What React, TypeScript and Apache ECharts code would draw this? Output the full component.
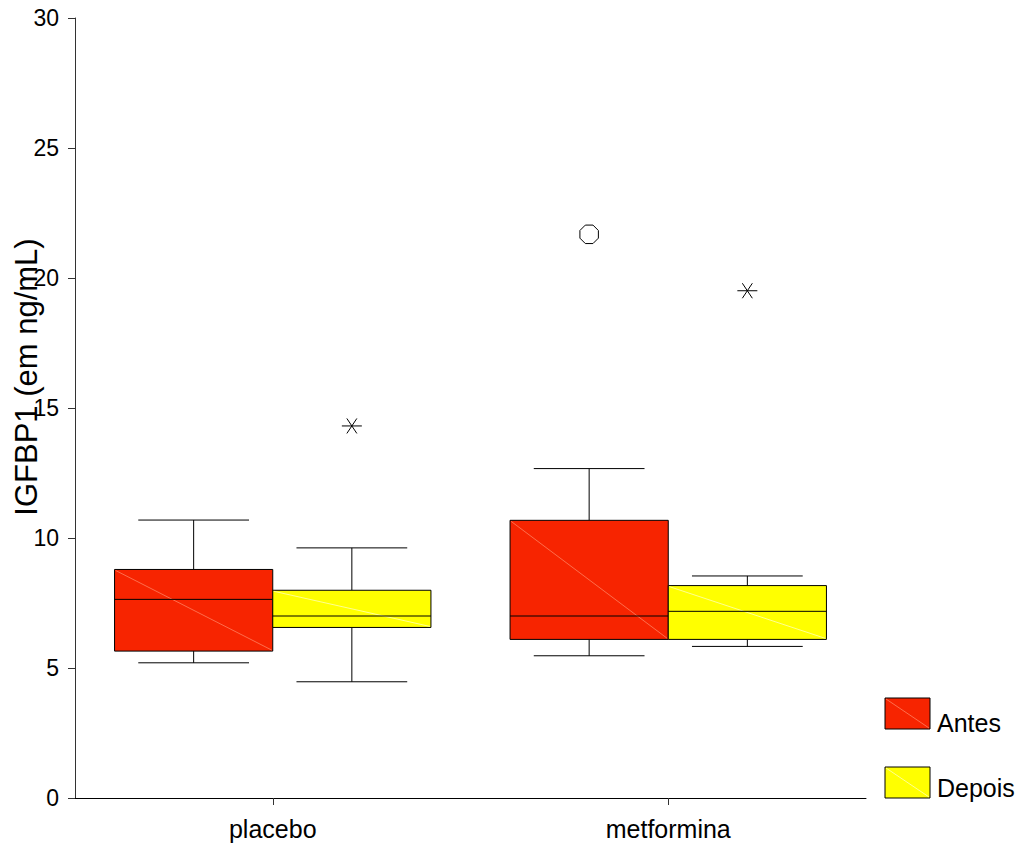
import React, { useEffect, useRef } from 'react';
import * as echarts from 'echarts';

const categories = ['placebo', 'metformina'];
const groupNames = ['Antes', 'Depois'];
// [low whisker, Q1, median, Q3, high whisker]
const antesStats = [
  [5.2, 5.65, 7.64, 8.79, 10.69],
  [5.47, 6.1, 7.0, 10.68, 12.67],
];
const depoisStats = [
  [4.47, 6.56, 7.0, 7.99, 9.62],
  [5.83, 6.1, 7.18, 8.17, 8.54],
];
// [category index, value]
const antesOutliers = [[1, 21.68]];
const depoisExtremes = [
  [0, 14.31],
  [1, 19.51],
];
const yMin = 0;
const yMax = 30;
const yInterval = 5;
const yAxisTitle = 'IGFBP1 (em ng/mL)';

const fillColors = ['#F72400', '#FFFF00'];
const diagColors = ['#FF8060', '#FFFFB8'];
const FONT = '"Liberation Sans", Arial, sans-serif';

function boxRenderer(groupIdx: number) {
  return (params: any, api: any) => {
    const cat = api.value(0);
    const low = api.coord([cat, api.value(1)]);
    const q1 = api.coord([cat, api.value(2)]);
    const med = api.coord([cat, api.value(3)]);
    const q3 = api.coord([cat, api.value(4)]);
    const high = api.coord([cat, api.value(5)]);
    const cx = low[0];
    const bw = api.size([1, 0])[0];
    const boxW = bw * 0.4;
    const left = groupIdx === 0 ? cx - boxW : cx;
    const right = left + boxW;
    const mid = (left + right) / 2;
    const capHalf = boxW * 0.35;
    const ls = { stroke: '#000', lineWidth: 1 };
    return {
      type: 'group',
      children: [
        { type: 'line', shape: { x1: mid, y1: high[1], x2: mid, y2: q3[1] }, style: ls },
        { type: 'line', shape: { x1: mid, y1: q1[1], x2: mid, y2: low[1] }, style: ls },
        { type: 'line', shape: { x1: mid - capHalf, y1: high[1], x2: mid + capHalf, y2: high[1] }, style: ls },
        { type: 'line', shape: { x1: mid - capHalf, y1: low[1], x2: mid + capHalf, y2: low[1] }, style: ls },
        {
          type: 'rect',
          shape: { x: left, y: q3[1], width: boxW, height: q1[1] - q3[1] },
          style: { fill: fillColors[groupIdx], stroke: '#000', lineWidth: 1 },
        },
        {
          type: 'line',
          shape: { x1: left + 1, y1: q3[1] + 1, x2: right - 1, y2: q1[1] - 1 },
          style: { stroke: diagColors[groupIdx], lineWidth: 0.8 },
        },
        { type: 'line', shape: { x1: left, y1: med[1], x2: right, y2: med[1] }, style: ls },
      ],
    };
  };
}

function outlierRenderer(groupIdx: number, kind: 'circle' | 'star') {
  return (params: any, api: any) => {
    const cat = api.value(0);
    const p = api.coord([cat, api.value(1)]);
    const bw = api.size([1, 0])[0];
    const x = p[0] + (groupIdx === 0 ? -0.2 : 0.2) * bw;
    const y = p[1];
    if (kind === 'circle') {
      const pts: number[][] = [];
      for (let i = 0; i < 8; i++) {
        const a = (Math.PI / 8) + (i * Math.PI) / 4;
        pts.push([x + 10 * Math.cos(a), y + 10 * Math.sin(a)]);
      }
      return {
        type: 'polygon',
        shape: { points: pts },
        style: { fill: 'none', stroke: '#000', lineWidth: 1 },
      };
    }
    const ls = { stroke: '#000', lineWidth: 1 };
    return {
      type: 'group',
      children: [
        { type: 'line', shape: { x1: x - 10, y1: y, x2: x + 10, y2: y }, style: ls },
        { type: 'line', shape: { x1: x - 5, y1: y - 7.5, x2: x + 5, y2: y + 7.5 }, style: ls },
        { type: 'line', shape: { x1: x - 5, y1: y + 7.5, x2: x + 5, y2: y - 7.5 }, style: ls },
      ],
    };
  };
}

function legendItem(idx: number, top: number, textY: number) {
  return [
    {
      type: 'rect',
      shape: { x: 885, y: top, width: 45, height: 31 },
      style: { fill: fillColors[idx], stroke: '#000', lineWidth: 1 },
    },
    {
      type: 'line',
      shape: { x1: 886, y1: top + 1, x2: 929, y2: top + 30 },
      style: { stroke: diagColors[idx], lineWidth: 0.8 },
    },
    {
      type: 'text',
      x: 937,
      y: textY,
      style: {
        text: groupNames[idx],
        fontSize: 25,
        fontFamily: FONT,
        fill: '#000',
        align: 'left',
        verticalAlign: 'middle',
        textAlign: 'left',
        textVerticalAlign: 'middle',
      },
    },
  ];
}

export default function App() {
  const ref = useRef<HTMLDivElement>(null);
  useEffect(() => {
    if (!ref.current) return;
    const chart = echarts.init(ref.current, undefined, { renderer: 'svg' });
    const toRows = (stats: number[][]) => stats.map((s, i) => [i, ...s]);
    chart.setOption({
      animation: false,
      backgroundColor: '#fff',
      grid: { left: 75, right: 155, top: 18, bottom: 49 },
      xAxis: {
        type: 'category',
        data: categories,
        boundaryGap: true,
        axisLine: { show: true, lineStyle: { color: '#000', width: 1 } },
        axisTick: { show: true, alignWithLabel: true, length: 7, lineStyle: { color: '#333' } },
        axisLabel: { color: '#000', fontSize: 25, fontFamily: FONT, margin: 18 },
        splitLine: { show: false },
      },
      yAxis: {
        type: 'value',
        min: yMin,
        max: yMax,
        interval: yInterval,
        axisLine: { show: true, lineStyle: { color: '#333', width: 1 } },
        axisTick: { show: true, length: 7, lineStyle: { color: '#333' } },
        axisLabel: { color: '#000', fontSize: 23, fontFamily: FONT, margin: 16 },
        splitLine: { show: false },
      },
      series: [
        {
          type: 'custom',
          name: groupNames[0],
          renderItem: boxRenderer(0),
          data: toRows(antesStats),
          encode: { x: 0, y: [1, 2, 3, 4, 5] },
          z: 2,
        },
        {
          type: 'custom',
          name: groupNames[1],
          renderItem: boxRenderer(1),
          data: toRows(depoisStats),
          encode: { x: 0, y: [1, 2, 3, 4, 5] },
          z: 2,
        },
        {
          type: 'custom',
          name: groupNames[0] + ' outliers',
          renderItem: outlierRenderer(0, 'circle'),
          data: antesOutliers,
          encode: { x: 0, y: 1 },
          z: 3,
        },
        {
          type: 'custom',
          name: groupNames[1] + ' extremes',
          renderItem: outlierRenderer(1, 'star'),
          data: depoisExtremes,
          encode: { x: 0, y: 1 },
          z: 3,
        },
      ],
      graphic: [
        {
          type: 'text',
          x: 26,
          y: 377,
          rotation: Math.PI / 2,
          style: {
            text: yAxisTitle,
            fontSize: 31,
            fontFamily: FONT,
            fill: '#000',
            align: 'center',
            verticalAlign: 'middle',
            textAlign: 'center',
            textVerticalAlign: 'middle',
          },
        },
        ...legendItem(0, 698, 723),
        ...legendItem(1, 767, 788),
      ],
    });
    return () => chart.dispose();
  }, []);
  return (
    <div
      ref={ref}
      style={{ position: 'fixed', left: 0, top: 0, width: 1021, height: 847 }}
    />
  );
}
